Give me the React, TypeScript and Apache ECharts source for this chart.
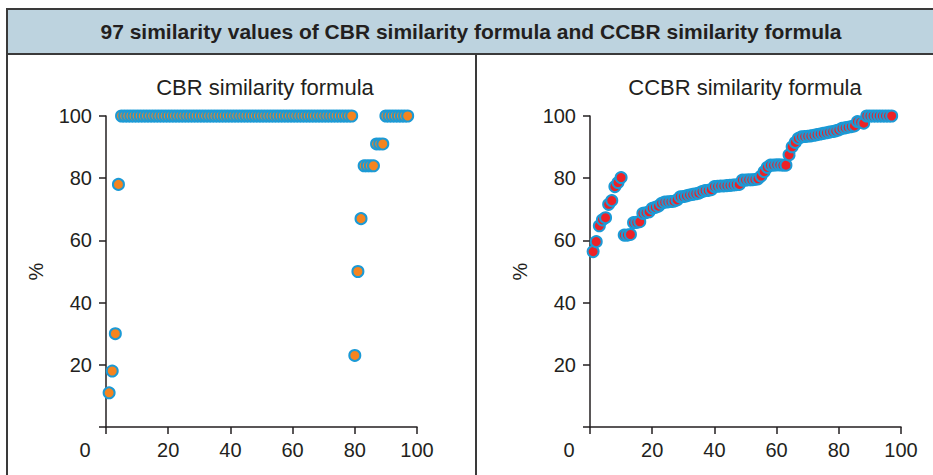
import React, { useEffect, useRef } from "react";
import * as echarts from "echarts";

const titleText = "97 similarity values of CBR similarity formula and CCBR similarity formula";
const leftTitle = "CBR similarity formula";
const rightTitle = "CCBR similarity formula";
const yAxisName = "%";
const xTicks = [0, 20, 40, 60, 80, 100];

// CBR similarity values (97 cases, index 1..97)
const cbrHead = [11, 18, 30, 78];
const cbrPlateau = new Array(75).fill(100); // cases 5..79 all at 100
const cbrTail = [23, 50, 67, 84, 84, 84, 84, 91, 91, 91, 100, 100, 100, 100, 100, 100, 100, 100];
const cbrValues = [...cbrHead, ...cbrPlateau, ...cbrTail];

// CCBR similarity values (97 cases, index 1..97)
const ccbrValues = [
  56.4, 59.6, 64.7, 66.6, 67.3, 71.6, 72.8, 77.3, 78.6, 80.2,
  61.7, 61.7, 61.9, 65.7, 65.8, 66.0, 68.7, 68.9, 69.2, 70.3,
  70.6, 71.0, 71.9, 72.3, 72.4, 72.5, 72.6, 73.0, 74.0, 74.1,
  74.3, 74.6, 74.8, 75.0, 75.2, 75.7, 76.0, 76.1, 76.3, 77.3,
  77.4, 77.5, 77.5, 77.6, 77.7, 77.8, 77.9, 78.0, 79.4, 79.4,
  79.5, 79.5, 79.6, 79.8, 80.7, 82.1, 83.5, 84.2, 84.2, 84.3,
  84.3, 84.2, 84.2, 87.5, 90.1, 91.5, 92.8, 93.3, 93.4, 93.5,
  93.6, 93.8, 94.0, 94.2, 94.4, 94.6, 94.8, 95.0, 95.2, 95.5,
  96.0, 96.2, 96.4, 96.6, 96.8, 98.2, 98.0, 97.7, 100, 100,
  100, 100, 100, 100, 100, 100, 100,
];

const FONT = "'Liberation Sans', Arial, Helvetica, sans-serif";
const AXIS_COLOR = "#231f20";
const TEXT_COLOR = "#231f20";

export default function App() {
  const ref = useRef<HTMLDivElement>(null);

  useEffect(() => {
    if (!ref.current) return;
    const chart = echarts.init(ref.current, undefined, { renderer: "svg" });

    const gridW = 311;
    const gridH = 311;
    const grids = [
      { left: 106, top: 116, width: gridW, height: gridH },
      { left: 590, top: 116, width: gridW, height: gridH },
    ];

    const makeX = (gi: number) => ({
      type: "value",
      gridIndex: gi,
      min: xTicks[0],
      max: xTicks[xTicks.length - 1],
      interval: 20,
      splitLine: { show: false },
      axisLine: { show: true, onZero: false, lineStyle: { color: AXIS_COLOR, width: 1.5 } },
      axisTick: { show: true, length: 7, lineStyle: { color: AXIS_COLOR, width: 1.5 } },
      axisLabel: {
        color: TEXT_COLOR,
        fontSize: 20,
        fontFamily: FONT,
        margin: 13,
        formatter: (v: number) => (v === 0 ? "{z|0}" : String(v)),
        rich: { z: { fontSize: 20, fontFamily: FONT, color: TEXT_COLOR, padding: [0, 42, 0, 0] } },
      },
    });

    const makeY = (gi: number) => ({
      type: "value",
      gridIndex: gi,
      min: 0,
      max: 100,
      interval: 20,
      name: yAxisName,
      nameLocation: "middle",
      nameGap: 60,
      nameTextStyle: { fontSize: 20, fontFamily: FONT, color: TEXT_COLOR },
      splitLine: { show: false },
      axisLine: { show: true, onZero: false, lineStyle: { color: AXIS_COLOR, width: 1.5 } },
      axisTick: { show: true, length: 7, lineStyle: { color: AXIS_COLOR, width: 1.5 } },
      axisLabel: {
        color: TEXT_COLOR,
        fontSize: 20,
        fontFamily: FONT,
        margin: 14,
        formatter: (v: number) => (v === 0 ? "" : String(v)),
      },
    });

    const cbrData = cbrValues.map((v, i) => [i + 1, v]);
    const ccbrData = ccbrValues.map((v, i) => [i + 1, v]);

    chart.setOption({
      animation: false,
      backgroundColor: "#ffffff",
      textStyle: { fontFamily: FONT },
      grid: grids,
      xAxis: [makeX(0), makeX(1)],
      yAxis: [makeY(0), makeY(1)],
      graphic: [
        {
          type: "rect",
          z: -1,
          shape: { x: 7, y: 9, width: 940, height: 45 },
          style: { fill: "#bdd3df", stroke: "#3a3a3a", lineWidth: 2 },
        },
        {
          type: "line",
          shape: { x1: 7, y1: 9, x2: 7, y2: 480 },
          style: { stroke: "#3a3a3a", lineWidth: 2 },
        },
        {
          type: "line",
          shape: { x1: 476, y1: 54, x2: 476, y2: 480 },
          style: { stroke: "#3a3a3a", lineWidth: 2 },
        },
        {
          type: "text",
          x: 471,
          y: 31,
          style: {
            text: titleText,
            fontSize: 21,
            fontWeight: "bold",
            fontFamily: FONT,
            fill: TEXT_COLOR,
            align: "center",
            verticalAlign: "middle",
          },
        },
        {
          type: "text",
          x: 265,
          y: 87,
          style: {
            text: leftTitle,
            fontSize: 22,
            fontFamily: FONT,
            fill: TEXT_COLOR,
            align: "center",
            verticalAlign: "middle",
          },
        },
        {
          type: "text",
          x: 745,
          y: 87,
          style: {
            text: rightTitle,
            fontSize: 22,
            fontFamily: FONT,
            fill: TEXT_COLOR,
            align: "center",
            verticalAlign: "middle",
          },
        },
      ],
      series: [
        {
          type: "scatter",
          xAxisIndex: 0,
          yAxisIndex: 0,
          data: cbrData,
          symbol: "circle",
          symbolSize: 11,
          itemStyle: { color: "#f5841f", borderColor: "#1b9ad6", borderWidth: 2, opacity: 1 },
          emphasis: { disabled: true },
        },
        {
          type: "scatter",
          xAxisIndex: 1,
          yAxisIndex: 1,
          data: ccbrData,
          symbol: "circle",
          symbolSize: 11,
          itemStyle: { color: "#ec2227", borderColor: "#1b9ad6", borderWidth: 2, opacity: 1 },
          emphasis: { disabled: true },
        },
      ],
    });

    return () => chart.dispose();
  }, []);

  return (
    <div
      ref={ref}
      style={{ position: "absolute", left: 0, top: 0, width: 933, height: 475 }}
    />
  );
}
